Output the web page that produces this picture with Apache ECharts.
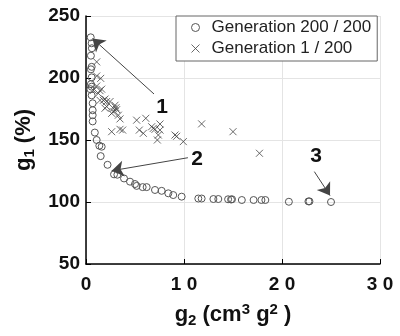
<!DOCTYPE html>
<html><head><meta charset="utf-8">
<script src="https://cdn.jsdelivr.net/npm/echarts@6/dist/echarts.min.js"></script>
<style>html,body{margin:0;padding:0;background:#fff}#c{width:400px;height:336px}</style>
</head><body><div id="c"></div>
<script>
const xTicks = [0, 10, 20, 30];
const yTicks = [50, 100, 150, 200, 250];
const seriesNames = ['Generation 200 / 200', 'Generation 1 / 200'];
// Generation 200 (circles): [g2, g1]
const gen200 = [
  [0.48,232.8],[0.58,228],[0.6,224],[0.5,218],[0.58,209],[0.5,207],[0.58,200.5],[0.5,195],
  [0.58,193],[0.45,191],[0.58,186],[0.68,179.6],[0.68,174],[0.68,170],[0.68,165],[0.9,156],
  [1.09,150],[1.36,145.4],[1.6,144.6],[1.5,137],[2.2,130],[2.86,122.3],[3.2,122],[3.88,119],
  [4.49,116.4],[5.0,114.5],[5.17,113],[5.78,112],[6.19,112],[7.04,109.7],[7.72,109],[8.4,107],
  [8.9,105.6],[9.76,104.3],[11.46,102.8],[11.8,102.8],[13.0,102.4],[13.5,102.4],[14.5,102.2],
  [14.8,102],[14.9,102.2],[15.9,101.6],[17.1,101.6],[17.9,101.6],[18.3,101.6],[20.7,100.2],
  [22.7,100.5],[22.8,100.5],[25.0,100]
];
// Generation 1 (crosses): [g2, g1]
const gen1 = [
  [0.75,190],[1.09,213],[1.09,201.6],[1.5,199.7],[1.09,193.5],[1.6,191],[1.43,189.8],[1.26,187.6],
  [1.43,182],[1.77,182],[1.94,183],[2.1,181],[2.45,181],[1.94,175.6],[2.1,177],[2.79,175.6],
  [2.96,178],[3.06,176],[3.13,174.5],[2.79,172.8],[2.62,171.5],[3.3,170],[3.47,167],[2.62,156.7],
  [3.47,158.6],[3.74,158],[5.17,166],[6.1,167.5],[5.44,158],[5.85,155.4],[6.7,160.7],[6.87,159.4],
  [7.04,158.6],[7.55,162.9],[7.38,154],[7.55,158],[7.28,150],[9.08,154],[9.25,153],[9.93,148.7],
  [11.8,163],[15.0,156.7],[17.7,139.3]
];
// annotations: label, label position, arrow start, arrow tip
const annLabels = ['1', '2', '3'];
const annLabelPos = [[7.76,176.6],[11.33,134.3],[23.47,137.1]];
const annStart = [[6.94,187.1],[10.4,135.7],[23.3,124.5]];
const annEnd = [[0.66,231.9],[2.62,125.2],[24.9,105.2]];

const FONT = 'Liberation Sans, Arial, sans-serif';
const chart = echarts.init(document.getElementById('c'), null, {renderer:'canvas'});
chart.setOption({
  animation: false,
  grid: {left: 86, right: 20, top: 16, bottom: 72, containLabel: false},
  legend: {
    data: seriesNames,
    orient: 'vertical',
    left: 176, top: 16,
    padding: [3, 6, 4, 15],
    itemWidth: 22, itemHeight: 8, itemGap: 4,
    backgroundColor: '#fff',
    borderColor: '#666', borderWidth: 1, borderRadius: 0,
    itemStyle: {borderWidth: 1},
    textStyle: {fontFamily: FONT, fontSize: 17, color: '#222', lineHeight: 17}
  },
  xAxis: {
    type: 'value', min: xTicks[0], max: xTicks[xTicks.length-1], interval: 10,
    axisLine: {show: true, onZero: false, lineStyle: {color: '#000', width: 1.5}},
    axisTick: {show: true, inside: true, length: 5, lineStyle: {color: '#000'}},
    splitLine: {show: true, lineStyle: {color: '#e4e4e4', width: 1}},
    axisLabel: {fontFamily: FONT, fontSize: 19, fontWeight: 'bold', color: '#111', margin: 11,
      formatter: v => String(v).split('').join(' ')},
    name: '{b|g}{sb|2}{b| (cm}{sp|3}{b| g}{sp|2}{b| )}',
    nameLocation: 'middle', nameGap: 37,
    nameTextStyle: {rich: {
      b: {fontFamily: FONT, fontSize: 22, fontWeight: 'bold', color: '#111'},
      sb: {fontFamily: FONT, fontSize: 15, fontWeight: 'bold', color: '#111', padding: [12,0,0,0]},
      sp: {fontFamily: FONT, fontSize: 15, fontWeight: 'bold', color: '#111', padding: [0,0,10,0]}
    }}
  },
  yAxis: {
    type: 'value', min: yTicks[0], max: yTicks[yTicks.length-1], interval: 50,
    axisLine: {show: true, onZero: false, lineStyle: {color: '#000', width: 1.5}},
    axisTick: {show: true, inside: true, length: 5, lineStyle: {color: '#000'}},
    splitLine: {show: true, lineStyle: {color: '#e4e4e4', width: 1}},
    axisLabel: {fontFamily: FONT, fontSize: 19, fontWeight: 'bold', color: '#111', margin: 6},
    name: '{b|g}{sb|1}{b| (%)}',
    nameLocation: 'middle', nameGap: 38,
    nameTextStyle: {rich: {
      b: {fontFamily: FONT, fontSize: 22, fontWeight: 'bold', color: '#111'},
      sb: {fontFamily: FONT, fontSize: 15, fontWeight: 'bold', color: '#111', padding: [12,0,0,0]}
    }}
  },
  series: [
    {
      name: seriesNames[0], type: 'scatter', data: gen200,
      symbol: 'circle', symbolSize: 7,
      itemStyle: {color: 'rgba(255,255,255,0)', borderColor: '#555', borderWidth: 1, opacity: 1},
      z: 3,
      markLine: {
        silent: true, animation: false,
        lineStyle: {color: '#444', width: 1, type: 'solid'},
        label: {show: false},
        symbol: ['none', 'arrow'], symbolSize: [0, 12],
        data: annStart.map((s, i) => [
          {coord: s, symbol: 'none'},
          {coord: annEnd[i], symbol: 'arrow', symbolSize: 12, itemStyle: {color: '#000'}}
        ])
      },
      markPoint: {
        silent: true, animation: false,
        symbol: 'circle', symbolSize: 0,
        label: {show: true, position: 'inside', fontFamily: FONT, fontSize: 21, fontWeight: 'bold', color: '#111'},
        data: annLabelPos.map((p, i) => ({coord: p, value: annLabels[i], label: {formatter: annLabels[i]}}))
      }
    },
    {
      name: seriesNames[1], type: 'scatter', data: gen1,
      symbol: 'path://M0,0L10,10M0,10L10,0', symbolSize: 7,
      itemStyle: {color: 'rgba(0,0,0,0)', borderColor: '#444', borderWidth: 1},
      z: 2
    }
  ]
});
</script></body></html>
